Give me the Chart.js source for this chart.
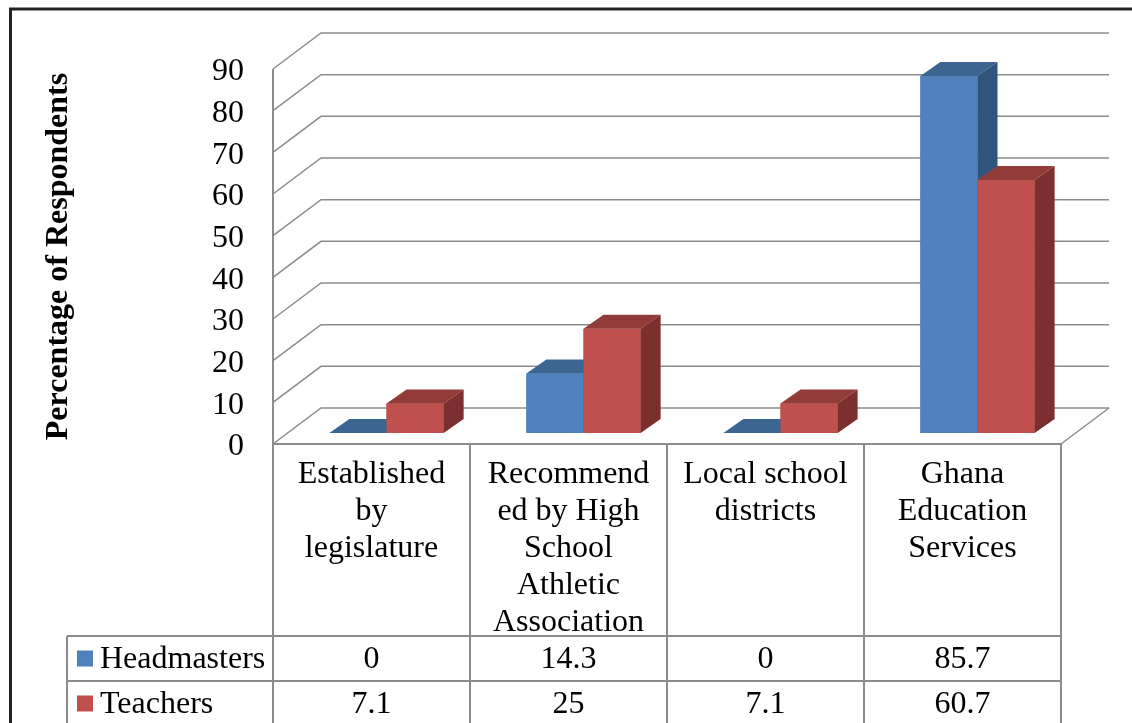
<!DOCTYPE html>
<html lang="en">
<head>
<meta charset="UTF-8">
<title>Percentage of Respondents</title>
<style>
  html, body { margin: 0; padding: 0; background: #fff; }
  #wrap { width: 1132px; height: 723px; }
</style>
<script src="https://cdn.jsdelivr.net/npm/chart.js"></script>
</head>
<body>
<div id="wrap"><canvas id="chart" width="1132" height="723"></canvas></div>
<script>
const categories = [
  ['Established', 'by', 'legislature'],
  ['Recommend', 'ed by High', 'School', 'Athletic', 'Association'],
  ['Local school', 'districts'],
  ['Ghana', 'Education', 'Services']
];
const seriesNames = ['Headmasters', 'Teachers'];
const headmasters = [0, 14.3, 0, 85.7];
const teachers = [7.1, 25, 7.1, 60.7];
const yMin = 0, yMax = 90, yStep = 10;

const FONT = 'Liberation Serif';
const GRID = '#8c8c8c';
// 3d offsets (back wall, bar front plane, bar depth)
const WALL_DX = 48, WALL_DY = -36;
const BAR_X = 15, BAR_Y = -11;
const BAR_DX = 20, BAR_DY = -14;
// data table rows under the header
const ROW_TOP = 636, ROW_H = 45, LEGEND_LEFT = 67;

const box3d = {
  id: 'box3d',
  beforeDatasetsDraw(chart) {
    const {ctx, chartArea: a, scales: {y}} = chart;
    ctx.save();
    ctx.strokeStyle = GRID;
    ctx.lineWidth = 1.5;
    y.ticks.forEach(t => {
      const py = y.getPixelForValue(t.value);
      ctx.beginPath();
      ctx.moveTo(a.left, py);
      ctx.lineTo(a.left + WALL_DX, py + WALL_DY);
      ctx.lineTo(a.right + WALL_DX, py + WALL_DY);
      ctx.stroke();
    });
    ctx.beginPath();
    ctx.moveTo(a.right, a.bottom);
    ctx.lineTo(a.right + WALL_DX, a.bottom + WALL_DY);
    ctx.stroke();
    ctx.restore();
    // bars sit a bit inside the box
    ctx.save();
    ctx.translate(BAR_X, BAR_Y);
  },
  afterDatasetsDraw(chart) {
    const ctx = chart.ctx;
    chart.data.datasets.forEach((ds, i) => {
      chart.getDatasetMeta(i).data.forEach(bar => {
        const {x, y, base, width} = bar.getProps(['x', 'y', 'base', 'width'], true);
        const l = x - width / 2, r = x + width / 2;
        const top = Math.min(y, base), bot = Math.max(y, base);
        ctx.fillStyle = ds.backgroundColor;
        ctx.fillRect(l, top, width, bot - top);
        ctx.fillStyle = ds.topColor;
        ctx.beginPath();
        ctx.moveTo(l, top);
        ctx.lineTo(l + BAR_DX, top + BAR_DY);
        ctx.lineTo(r + BAR_DX, top + BAR_DY);
        ctx.lineTo(r, top);
        ctx.closePath();
        ctx.fill();
        if (bot > top) {
          ctx.fillStyle = ds.sideColor;
          ctx.beginPath();
          ctx.moveTo(r, top);
          ctx.lineTo(r + BAR_DX, top + BAR_DY);
          ctx.lineTo(r + BAR_DX, bot + BAR_DY);
          ctx.lineTo(r, bot);
          ctx.closePath();
          ctx.fill();
        }
      });
    });
    ctx.restore();
  },
  afterDraw(chart) {
    const {ctx, chartArea: a, scales: {x}} = chart;
    const n = categories.length;
    const half = (x.getPixelForValue(1) - x.getPixelForValue(0)) / 2;
    const cols = [];
    for (let i = 0; i < n; i++) cols.push(x.getPixelForValue(i) - half);
    cols.push(x.getPixelForValue(n - 1) + half);
    const bottom = ROW_TOP + ROW_H * 2;

    ctx.save();
    ctx.strokeStyle = GRID;
    ctx.lineWidth = 2;
    ctx.beginPath();
    // front axis + table verticals
    ctx.moveTo(a.left, a.top);
    ctx.lineTo(a.left, bottom);
    for (let i = 1; i <= n; i++) {
      ctx.moveTo(cols[i], a.bottom);
      ctx.lineTo(cols[i], bottom);
    }
    ctx.moveTo(LEGEND_LEFT, ROW_TOP);
    ctx.lineTo(LEGEND_LEFT, bottom);
    // horizontals
    ctx.moveTo(a.left, a.bottom);
    ctx.lineTo(cols[n], a.bottom);
    for (let r = 0; r <= 2; r++) {
      ctx.moveTo(LEGEND_LEFT, ROW_TOP + r * ROW_H);
      ctx.lineTo(cols[n], ROW_TOP + r * ROW_H);
    }
    ctx.stroke();

    // rows: legend key + values
    ctx.font = '32px "' + FONT + '"';
    ctx.textBaseline = 'middle';
    chart.data.datasets.forEach((ds, r) => {
      const cy = ROW_TOP + r * ROW_H + ROW_H / 2;
      ctx.fillStyle = ds.backgroundColor;
      ctx.fillRect(77, cy - 8, 16, 16);
      ctx.fillStyle = '#000';
      ctx.textAlign = 'left';
      ctx.fillText(ds.label, 100, cy + 1);
      ctx.textAlign = 'center';
      ds.data.forEach((v, i) => {
        ctx.fillText(String(v), x.getPixelForValue(i), cy + 1);
      });
    });

    // outer frame
    ctx.strokeStyle = '#222';
    ctx.lineWidth = 3;
    ctx.beginPath();
    ctx.moveTo(10.5, 723);
    ctx.lineTo(10.5, 9);
    ctx.lineTo(1132, 9);
    ctx.stroke();
    ctx.restore();
  }
};

new Chart(document.getElementById('chart'), {
  type: 'bar',
  data: {
    labels: categories,
    datasets: [
      {
        label: seriesNames[0],
        data: headmasters,
        backgroundColor: '#4f81bd',
        topColor: '#3c6592',
        sideColor: '#31547b'
      },
      {
        label: seriesNames[1],
        data: teachers,
        backgroundColor: '#c0504d',
        topColor: '#923c3a',
        sideColor: '#7b2f2e'
      }
    ]
  },
  options: {
    responsive: false,
    animation: false,
    devicePixelRatio: 1,
    categoryPercentage: 0.58,
    barPercentage: 1,
    clip: false,
    layout: { padding: { left: 20, top: 69, right: 71, bottom: 0 } },
    plugins: {
      legend: { display: false },
      tooltip: { enabled: false }
    },
    scales: {
      x: {
        afterFit(scale) { scale.height = 279; },
        grid: { display: false, drawTicks: false, tickLength: 0 },
        border: { display: false },
        ticks: {
          autoSkip: false,
          maxRotation: 0,
          minRotation: 0,
          padding: 12,
          color: '#000',
          font: { family: FONT, size: 32, lineHeight: 1.16 }
        }
      },
      y: {
        min: yMin,
        max: yMax,
        afterFit(scale) { scale.width = 253; },
        grid: { display: false, drawTicks: false, tickLength: 0 },
        border: { display: false },
        ticks: {
          stepSize: yStep,
          padding: 29,
          labelOffset: 3,
          color: '#000',
          font: { family: FONT, size: 32 }
        },
        title: {
          display: true,
          text: 'Percentage of Respondents',
          color: '#000',
          padding: { top: 20, bottom: 0 },
          font: { family: FONT, size: 32, weight: 'bold' }
        }
      }
    }
  },
  plugins: [box3d]
});
</script>
</body>
</html>
